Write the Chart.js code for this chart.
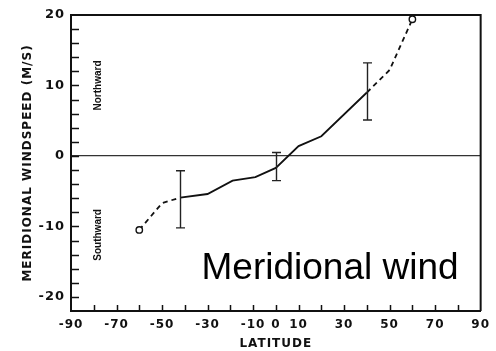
<!DOCTYPE html>
<html>
<head>
<meta charset="utf-8">
<script src="https://cdn.jsdelivr.net/npm/chart.js@4.4.1/dist/chart.umd.min.js"></script>
<style>
  html, body { margin: 0; padding: 0; background: #fff; }
  #wrap { width: 496px; height: 351px; position: relative; }
</style>
</head>
<body>
<div id="wrap"><canvas id="c" width="496" height="351"></canvas></div>
<script>
// Zonal-mean meridional wind versus latitude
const latitudes = [-60, -50, -42, -30, -19, -9, 0, 10, 20, 40, 50, 60];
const windSpeed = [-10.5, -6.7, -5.9, -5.4, -3.5, -3.0, -1.7, 1.4, 2.8, 9.0, 12.2, 19.4];

// Solid curve between these latitudes, dashed outside
const solidRange = [-42, 40];

// Error bars
const errLat = [-42, 0, 40];
const errLow = [-10.2, -3.5, 5.1];
const errHigh = [-2.1, 0.5, 13.2];

// Axis tick labels
const xTickLabels = [-90, -70, -50, -30, -10, 0, 10, 30, 50, 70, 90];
const yTickLabels = [20, 10, 0, -10, -20];

const axisFont = { family: 'DejaVu Sans', size: 12, weight: 'bold' };
const ink = '#111';

const framePlugin = {
  id: 'frame',
  beforeDraw(chart) {
    chart.ctx.letterSpacing = '1px';
  },
  afterDraw(chart) {
    const { ctx, chartArea: a, scales } = chart;
    const xs = scales.x, ys = scales.y;
    ctx.save();
    ctx.letterSpacing = '0px';
    // top and right frame
    ctx.strokeStyle = ink;
    ctx.lineWidth = 2;
    ctx.beginPath();
    ctx.moveTo(a.left, a.top);
    ctx.lineTo(a.right, a.top);
    ctx.lineTo(a.right, a.bottom);
    ctx.stroke();
    // inward tick marks
    ctx.lineWidth = 1.5;
    ctx.beginPath();
    ys.ticks.forEach(t => {
      if (t.value === ys.max || t.value === ys.min) return;
      const py = Math.round(ys.getPixelForValue(t.value)) + 0.5;
      ctx.moveTo(a.left, py);
      ctx.lineTo(a.left + 8, py);
    });
    xs.ticks.forEach(t => {
      if (t.value === xs.max || t.value === xs.min) return;
      const px = Math.round(xs.getPixelForValue(t.value)) + 0.5;
      ctx.moveTo(px, a.bottom);
      ctx.lineTo(px, a.bottom - 6);
    });
    ctx.stroke();
    // error bars
    ctx.strokeStyle = '#222';
    ctx.lineWidth = 1.4;
    errLat.forEach((lat, i) => {
      const px = Math.round(xs.getPixelForValue(lat)) + 0.5;
      const yl = ys.getPixelForValue(errLow[i]);
      const yh = ys.getPixelForValue(errHigh[i]);
      ctx.beginPath();
      ctx.moveTo(px, yl); ctx.lineTo(px, yh);
      ctx.moveTo(px - 4.5, yl); ctx.lineTo(px + 4.5, yl);
      ctx.moveTo(px - 4.5, yh); ctx.lineTo(px + 4.5, yh);
      ctx.stroke();
    });
    // direction notes
    ctx.fillStyle = ink;
    ctx.font = 'bold 10px "Liberation Sans"';
    ctx.textAlign = 'center';
    ctx.textBaseline = 'middle';
    [['Northward', 10], ['Southward', -11.2]].forEach(([txt, v]) => {
      ctx.save();
      ctx.translate(xs.getPixelForValue(-78.2), ys.getPixelForValue(v));
      ctx.rotate(-Math.PI / 2);
      ctx.fillText(txt, 0, 0);
      ctx.restore();
    });
    // caption
    ctx.font = '37px "Liberation Sans"';
    ctx.fillStyle = '#000';
    ctx.textAlign = 'left';
    ctx.textBaseline = 'alphabetic';
    ctx.fillText('Meridional wind', 201.5, 279);
    ctx.restore();
  }
};

new Chart(document.getElementById('c'), {
  type: 'line',
  data: {
    datasets: [{
      data: latitudes.map((lat, i) => ({ x: lat, y: windSpeed[i] })),
      borderColor: ink,
      borderWidth: 1.8,
      tension: 0,
      fill: false,
      segment: {
        borderDash: ctx => (ctx.p0.parsed.x < solidRange[0] || ctx.p1.parsed.x > solidRange[1]) ? [5, 4] : undefined
      },
      pointRadius: ctx => (ctx.dataIndex === 0 || ctx.dataIndex === latitudes.length - 1) ? 3.2 : 0,
      pointBackgroundColor: '#fff',
      pointBorderColor: ink,
      pointBorderWidth: 1.4
    }]
  },
  options: {
    responsive: false,
    animation: false,
    events: [],
    layout: { padding: { top: 15, right: 13, left: 0, bottom: 0 } },
    plugins: { legend: { display: false }, tooltip: { enabled: false } },
    scales: {
      x: {
        type: 'linear',
        min: -90, max: 90,
        afterFit: s => { s.height = 40; },
        ticks: {
          stepSize: 10, autoSkip: false, maxRotation: 0, minRotation: 0,
          color: ink, font: axisFont, padding: 7,
          callback: v => xTickLabels.includes(v) ? String(v) : ''
        },
        grid: { display: true, drawTicks: false, drawOnChartArea: false, color: 'transparent' },
        border: { display: true, color: ink, width: 2 },
        title: { display: true, text: 'LATITUDE', color: ink, font: axisFont, padding: { top: 0, bottom: 0 } }
      },
      y: {
        type: 'linear',
        min: -22, max: 20,
        afterFit: s => { s.width = 71; },
        ticks: {
          stepSize: 2, autoSkip: false, color: ink, font: { family: 'DejaVu Sans', size: 13, weight: 'bold' }, padding: 6,
          callback: v => yTickLabels.includes(v) ? String(v) : ''
        },
        grid: {
          display: true, drawTicks: false, drawOnChartArea: true,
          color: c => c.tick && c.tick.value === 0 ? '#333' : 'transparent',
          lineWidth: 1.2
        },
        border: { display: true, color: ink, width: 2 },
        title: { display: true, text: 'MERIDIONAL WINDSPEED (M/S)', color: ink, font: { family: 'DejaVu Sans', size: 12, weight: 'bold' }, padding: { top: 21, bottom: 0 } }
      }
    }
  },
  plugins: [framePlugin]
});
</script>
</body>
</html>
